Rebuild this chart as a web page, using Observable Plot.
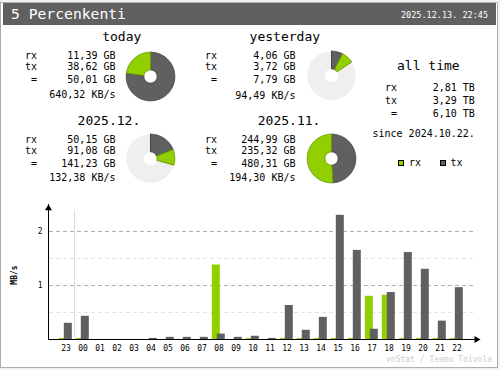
<!DOCTYPE html>
<html><head><meta charset="utf-8">
<script src="https://cdn.jsdelivr.net/npm/d3@7"></script>
<script src="https://cdn.jsdelivr.net/npm/@observablehq/plot@0.6"></script>
<style>
body{margin:0;background:#fff;}
#c{position:relative;width:500px;height:370px;background:#f2f2f2;font-family:"DejaVu Sans Mono",monospace;color:#000;overflow:hidden}
#frame{position:absolute;left:0;top:2px;width:496px;height:364px;border:1px solid #aeaeae;background:#fff}
#hdr{position:absolute;left:3px;top:3px;width:493px;height:22px;background:#606060}
.t{position:absolute;white-space:pre;line-height:1.2;}
.abs{position:absolute;}
</style></head>
<body>
<div id="c"><div id="frame"></div><div id="hdr"></div></div>
<script>
// ---- data ----
const title = "5 Percenkenti";
const dateText = "2025.12.13. 22:45";
const summaryTitles = ["today", "yesterday", "2025.12.", "2025.11."];
const summaryRx = [11.39, 4.06, 50.15, 244.99];      // GB
const summaryTx = [38.62, 3.72, 91.08, 235.32];      // GB
const summaryTotal = [50.01, 7.79, 141.23, 480.31];  // GB
const summaryRate = [640.32, 94.49, 132.38, 194.30]; // KB/s
const allTimeValues = [2.81, 3.29, 6.10];            // TB: rx, tx, total
const sinceText = "since 2024.10.22.";
const rowLabels = ["rx", "tx", "="];
const legendKeys = ["rx", "tx"];
const hours = ["23","00","01","02","03","04","05","06","07","08","09","10","11","12","13","14","15","16","17","18","19","20","21","22"];
const rxRate = [0.02,0.02,0,0,0,0,0,0,0,1.38,0,0.02,0,0.02,0.02,0.02,0.02,0.02,0.80,0.82,0.02,0.02,0.02,0.02]; // MB/s
const txRate = [0.30,0.43,0,0,0,0.02,0.04,0.04,0.04,0.10,0.04,0.06,0.02,0.63,0.17,0.41,2.30,1.65,0.19,0.87,1.61,1.30,0.34,0.96];   // MB/s
const yMajor = [1, 2];
const yMinor = [0.5, 1.5];
const dayBoundary = ["00"];
const captionText = "vnStat / Teemu Toivola";

// ---- styles / layout ----
const GREEN = "#92cf00", GRAY = "#606060";
const GREEN_D = "#6a9a00", GRAY_D = "#454545";
const PIE_BG = "#efefef";
const root = document.getElementById("c");
const fmt = v => d3.format(".2f")(v).replace(".", ",");

function text(str, {x, anchor = "start", size = 10, base, center, color = "#000", weight = "normal"}) {
  const d = document.createElement("div");
  d.className = "t";
  d.textContent = str;
  d.style.fontSize = size + "px";
  d.style.color = color;
  d.style.fontWeight = weight;
  const b = base !== undefined ? base : center + 0.3645 * size;
  d.style.top = (b - 0.946 * size) + "px";
  if (anchor === "end") { d.style.right = (500 - x) + "px"; d.style.textAlign = "right"; }
  else d.style.left = x + "px";
  root.appendChild(d);
  return d;
}

// header
text(title, {x: 11, base: 19.3, size: 14.7, color: "#fff"});
text(dateText, {x: 488, anchor: "end", base: 17.7, size: 8.5, color: "#fff"});

const blocks = [
  {titleX: 102.2, titleBase: 41.7, labelR: 37, valueR: 115.5, rows: [55.5, 67.3, 80.2, 95.2], pie: [150.3, 75.5], scale: 0},
  {titleX: 249.6, titleBase: 41.7, labelR: 217, valueR: 295.5, rows: [55.5, 67.3, 80.2, 95.5], pie: [330.5, 75.4], scale: 0},
  {titleX: 77.6, titleBase: 125, labelR: 37, valueR: 115.5, rows: [139.7, 150.5, 164, 178.2], pie: [150.3, 158.3], scale: 1},
  {titleX: 257.8, titleBase: 125, labelR: 217, valueR: 295.5, rows: [139.5, 150.5, 164, 178.2], pie: [330.5, 158.3], scale: 1}
];
const dayMax = d3.max(summaryTotal.slice(0, 2));
const monthMax = d3.max(summaryTotal.slice(2, 4));

function arcPoly(a0, a1, r0, r1) {
  const pts = [];
  const n = Math.max(2, Math.ceil((a1 - a0) / (Math.PI / 180)));
  for (let i = 0; i <= n; i++) { const a = a0 + (a1 - a0) * i / n; pts.push({x: r1 * Math.sin(a), y: r1 * Math.cos(a)}); }
  for (let i = n; i >= 0; i--) { const a = a0 + (a1 - a0) * i / n; pts.push({x: r0 * Math.sin(a), y: r0 * Math.cos(a)}); }
  pts.push(pts[0]);
  return pts;
}

blocks.forEach((b, i) => {
  text(summaryTitles[i], {x: b.titleX, base: b.titleBase, size: 13});
  const vals = [summaryRx[i], summaryTx[i], summaryTotal[i]];
  rowLabels.forEach((l, j) => {
    text(l, {x: b.labelR, anchor: "end", center: b.rows[j], size: 10});
    text(fmt(vals[j]) + " GB", {x: b.valueR, anchor: "end", center: b.rows[j], size: 10});
  });
  text(fmt(summaryRate[i]) + " KB/s", {x: b.valueR, anchor: "end", center: b.rows[3], size: 10});

  // pie
  const max = b.scale ? monthMax : dayMax;
  const aTx = summaryTx[i] / max * 2 * Math.PI;
  const aAll = summaryTotal[i] / max * 2 * Math.PI;
  const R = 24.3, r0 = 6.6;
  const txPoly = arcPoly(0, aTx, r0, R);
  const rxPoly = arcPoly(aTx, Math.min(aAll, 2 * Math.PI), r0, R);
  const pie = Plot.plot({
    width: 52, height: 52, margin: 0,
    style: {background: "transparent"},
    x: {domain: [-26, 26], axis: null},
    y: {domain: [-26, 26], axis: null},
    marks: [
      Plot.dot([0], {x: () => 0, y: () => 0, r: R, fill: PIE_BG, stroke: "none"}),
      Plot.dot([0], {x: () => 0, y: () => 0, r: r0, fill: "#fff", stroke: "none"}),
      Plot.line(txPoly, {x: "x", y: "y", fill: GRAY, stroke: GRAY_D, strokeWidth: 1, curve: "linear"}),
      Plot.line(rxPoly, {x: "x", y: "y", fill: GREEN, stroke: GREEN_D, strokeWidth: 1, curve: "linear"})
    ]
  });
  pie.style.position = "absolute";
  pie.style.left = (b.pie[0] - 26) + "px";
  pie.style.top = (b.pie[1] - 26) + "px";
  root.appendChild(pie);
});

// all time
text("all time", {x: 397, base: 70, size: 13});
const allRows = [87.7, 101, 114];
rowLabels.forEach((l, j) => {
  text(l, {x: 397, anchor: "end", center: allRows[j], size: 10});
  text(fmt(allTimeValues[j]) + " TB", {x: 474.8, anchor: "end", center: allRows[j], size: 10});
});
text(sinceText, {x: 372.5, center: 134.3, size: 10});

// legend
const legendPos = [[398.3, 409], [440, 450.5]];
legendKeys.forEach((k, j) => {
  const sw = document.createElement("div");
  sw.className = "abs";
  sw.style.left = legendPos[j][0] + "px";
  sw.style.top = (162.5 - 3) + "px";
  sw.style.width = "4px"; sw.style.height = "4px";
  sw.style.border = "1px solid #000";
  sw.style.background = j === 0 ? GREEN : GRAY;
  root.appendChild(sw);
  text(k, {x: legendPos[j][1], center: 162.5, size: 10});
});

// hourly bar chart
const barData = hours.map((h, i) => ({hour: h, rx: rxRate[i], tx: txRate[i]}));
const bars = Plot.plot({
  width: 500, height: 170,
  marginLeft: 48, marginRight: 22, marginTop: 9, marginBottom: 26,
  style: {fontFamily: "DejaVu Sans Mono", fontSize: "8px", background: "transparent", color: "#000"},
  x: {type: "band", domain: hours, range: [56.5, 465.5], padding: 0, tickSize: 0, tickPadding: 5.4, label: null},
  y: {domain: [0, 2.5], ticks: yMajor, tickSize: 0, tickPadding: 6, label: null, tickFormat: d => String(d)},
  marks: [
    Plot.ruleY(yMinor, {stroke: "#e2e2e2", strokeDasharray: "4,3", insetLeft: 1, insetRight: 5}),
    Plot.ruleY(yMajor, {stroke: "#b0b0b0", strokeDasharray: "4,3", insetLeft: 1, insetRight: 5}),
    Plot.ruleX(dayBoundary, {x: d => d, y1: 0, y2: 2.39, stroke: "#dddddd", dx: -8.5}),
    Plot.barY(barData, {x: "hour", y: "rx", fill: GREEN, insetLeft: 1.8, insetRight: 7.2}),
    Plot.barY(barData, {x: "hour", y: "tx", fill: GRAY, insetLeft: 6.8, insetRight: 2.2}),
    Plot.ruleY([0], {stroke: "#000"}),
    Plot.frame({anchor: "left", stroke: "#000"}),
    Plot.dot([2.43], {y: d => d, frameAnchor: "left", symbol: "triangle", r: 2.6, fill: "#000", stroke: "none"}),
    Plot.dot([0], {y: d => d, frameAnchor: "right", symbol: "triangle", r: 2.6, fill: "#000", stroke: "none", rotate: 90, dx: -2})
  ]
});
bars.style.position = "absolute";
bars.style.left = "0px";
bars.style.top = "195px";
root.appendChild(bars);

// y label
const yl = document.createElement("div");
yl.className = "t";
yl.textContent = "MB/s";
yl.style.fontSize = "8px";
yl.style.fontWeight = "bold";
yl.style.left = "15px";
yl.style.top = "275px";
yl.style.transform = "translate(-50%,-50%) rotate(-90deg)";
root.appendChild(yl);

// caption
text(captionText, {x: 492, anchor: "end", center: 359.5, size: 8, color: "#cccccc"});
</script>
</body></html>
